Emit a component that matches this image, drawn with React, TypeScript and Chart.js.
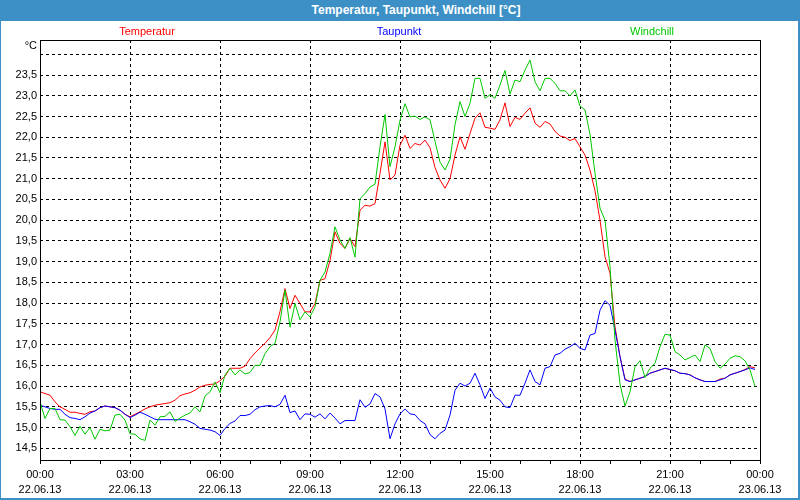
import React, { useEffect, useRef } from "react";
import { Chart, registerables } from "chart.js";

Chart.register(...registerables);

// 10-minute samples from 00:00 to 23:50 (22.06.13)
const stepMinutes = 10;

const temperatur = [
  15.86, 15.82, 15.78, 15.62, 15.5, 15.44,
  15.37, 15.37, 15.34, 15.32, 15.38, 15.4,
  15.48, 15.52, 15.5, 15.48, 15.42, 15.32,
  15.26, 15.32, 15.38, 15.45, 15.5, 15.54,
  15.56, 15.58, 15.6, 15.66, 15.77, 15.81,
  15.84, 15.9, 15.98, 16.02, 16.04, 16.05,
  16.13, 16.24, 16.43, 16.43, 16.43, 16.48,
  16.66, 16.8, 16.92, 17.03, 17.17, 17.35,
  17.8, 18.35, 17.87, 18.19, 17.99, 17.79,
  17.79, 17.99, 18.55, 18.59, 19.03, 19.72,
  19.44, 19.32, 19.56, 19.36, 20.24, 20.36,
  20.34, 20.4, 21.13, 21.89, 20.97, 21.09,
  21.81, 22.05, 21.73, 21.85, 21.81, 21.93,
  21.75, 21.27, 20.97, 20.77, 21.0, 21.57,
  22.01, 21.71, 22.09, 22.46, 22.59, 22.24,
  22.22, 22.19, 22.42, 22.83, 22.26, 22.48,
  22.43, 22.58, 22.71, 22.34, 22.24, 22.38,
  22.32, 22.14, 22.03, 22.0, 21.92, 21.97,
  21.77, 21.57, 21.21, 20.71, 20.0, 19.12,
  18.72, 17.43, 16.71, 16.17, 16.11, 16.15,
  16.19, 16.23, 16.31, 16.35, 16.39, 16.43,
  16.4, 16.37, 16.31, 16.3, 16.27, 16.2,
  16.15, 16.11, 16.11, 16.11, 16.17, 16.19,
  16.27, 16.31, 16.35, 16.4, 16.47, 16.44,
];

const taupunkt = [
  15.54, 15.5, 15.46, 15.44, 15.44, 15.32,
  15.24, 15.22, 15.19, 15.26, 15.35, 15.4,
  15.48, 15.52, 15.5, 15.48, 15.42, 15.32,
  15.24, 15.3, 15.37, 15.32, 15.26, 15.2,
  15.19, 15.19, 15.19, 15.19, 15.19, 15.19,
  15.14, 15.08, 14.98, 14.96, 14.94, 14.9,
  14.81, 14.98, 15.1, 15.16, 15.29, 15.29,
  15.32, 15.43, 15.5, 15.52, 15.53, 15.5,
  15.56, 15.78, 15.36, 15.4, 15.19, 15.33,
  15.32, 15.25, 15.33, 15.21, 15.35, 15.23,
  15.09, 15.17, 15.17, 15.17, 15.67, 15.49,
  15.57, 15.82, 15.74, 15.45, 14.73, 15.09,
  15.33, 15.45, 15.33, 15.31, 15.17, 15.09,
  14.83, 14.73, 14.86, 14.94, 15.3, 15.9,
  16.07, 16.0, 16.07, 16.31, 16.03, 15.7,
  15.95, 15.74, 15.66, 15.5, 15.48, 15.78,
  15.78, 16.07, 16.39, 16.11, 16.03, 16.43,
  16.47, 16.75, 16.79, 16.89, 16.95, 17.03,
  16.91, 16.87, 17.23, 17.27, 17.83, 18.06,
  17.95, 17.35, 16.71, 16.15, 16.11, 16.15,
  16.19, 16.23, 16.31, 16.35, 16.39, 16.43,
  16.4, 16.37, 16.31, 16.3, 16.27, 16.2,
  16.15, 16.11, 16.11, 16.11, 16.15, 16.19,
  16.27, 16.31, 16.35, 16.39, 16.44, 16.4,
];

const windchill = [
  15.62, 15.22, 15.46, 15.46, 15.19, 15.18,
  15.02, 14.81, 15.03, 14.84, 15.0, 14.72,
  14.96, 14.92, 14.94, 15.3, 15.32, 15.18,
  14.85, 14.84, 14.73, 14.69, 15.18, 15.06,
  15.26, 15.27, 15.38, 15.15, 15.23, 15.3,
  15.35, 15.5, 15.38, 15.76, 15.86, 16.1,
  15.84, 16.27, 16.43, 16.27, 16.39, 16.29,
  16.33, 16.5, 16.5, 16.78, 16.95, 17.03,
  17.55, 18.31, 17.42, 17.99, 17.6, 17.79,
  17.67, 17.91, 18.55, 18.75, 19.2, 19.84,
  19.52, 19.32, 19.58, 19.11, 20.52, 20.64,
  20.8, 20.87, 21.77, 22.55, 21.29, 21.77,
  22.41, 22.81, 22.49, 22.51, 22.43, 22.49,
  22.42, 21.9, 21.4, 21.21, 21.47, 22.3,
  22.86, 22.5, 22.82, 23.42, 23.42, 22.94,
  23.02, 22.94, 23.26, 23.61, 23.04, 23.38,
  23.34, 23.62, 23.86, 23.34, 23.12, 23.42,
  23.42, 23.3, 23.12, 23.12, 23.0, 23.14,
  22.75, 22.66, 22.07, 21.13, 20.29, 20.0,
  18.88, 17.11, 16.05, 15.52, 15.86, 16.47,
  16.61, 16.21, 16.43, 16.55, 16.95, 17.25,
  17.23, 16.83, 16.75, 16.63, 16.69, 16.75,
  16.59, 16.99, 16.91, 16.59, 16.43, 16.53,
  16.67, 16.73, 16.71, 16.61, 16.39, 15.99,
];

const seriesNames = ["Temperatur", "Taupunkt", "Windchill"];
const seriesColors = ["#ff0000", "#0000ff", "#00c800"];

const xTickHours = [0, 1, 2, 3, 4, 5, 6, 7, 8, 9, 10, 11, 12, 13, 14, 15, 16, 17, 18, 19, 20, 21, 22, 23, 24];
const xLabelHours = [0, 3, 6, 9, 12, 15, 18, 21, 24];
const xLabelTimes = ["00:00", "03:00", "06:00", "09:00", "12:00", "15:00", "18:00", "21:00", "00:00"];
const xLabelDates = ["22.06.13", "22.06.13", "22.06.13", "22.06.13", "22.06.13", "22.06.13", "22.06.13", "22.06.13", "23.06.13"];

const yTicks = [14.5, 15, 15.5, 16, 16.5, 17, 17.5, 18, 18.5, 19, 19.5, 20, 20.5, 21, 21.5, 22, 22.5, 23, 23.5, 24];
const yUnlabeled = [24];
const yMin = 14.218;
const yMax = 24.345;
const unitLabel = "°C";
const titleText = "Temperatur, Taupunkt, Windchill [°C]";

const FONT = '"Liberation Sans", Arial, sans-serif';
const BLUE = "#3d90c5";

const toPoints = (vals: number[]) => vals.map((v, i) => ({ x: (i * stepMinutes) / 60, y: v }));

const overlayPlugin = {
  id: "overlay",
  afterDraw(chart: any) {
    const { ctx, chartArea: a } = chart;
    ctx.save();
    ctx.strokeStyle = "#000";
    ctx.lineWidth = 1;
    ctx.setLineDash([]);
    ctx.strokeRect(a.left + 0.5, a.top + 0.5, a.right - a.left, a.bottom - a.top);
    ctx.font = "11px " + FONT;
    ctx.textBaseline = "middle";
    ctx.textAlign = "right";
    ctx.fillStyle = "#000";
    ctx.fillText(unitLabel, a.left - 3, 46);
    const centers = [147, 399, 652];
    ctx.textAlign = "center";
    chart.data.datasets.forEach((ds: any, i: number) => {
      ctx.fillStyle = ds.borderColor;
      ctx.fillText(ds.label, centers[i], 32);
    });
    ctx.restore();
  },
};

export default function App() {
  const ref = useRef<HTMLCanvasElement | null>(null);
  useEffect(() => {
    if (!ref.current) return;
    const chart = new Chart(ref.current, {
      type: "line",
      data: {
        datasets: [
          { label: seriesNames[0], data: toPoints(temperatur), borderColor: seriesColors[0], order: 2 },
          { label: seriesNames[1], data: toPoints(taupunkt), borderColor: seriesColors[1], order: 1 },
          { label: seriesNames[2], data: toPoints(windchill), borderColor: seriesColors[2], order: 0 },
        ] as any,
      },
      options: {
        responsive: false,
        animation: false,
        devicePixelRatio: 1,
        layout: { padding: { left: 0, top: 40, right: 40, bottom: 0 } },
        elements: {
          line: { borderWidth: 1, tension: 0, fill: false },
          point: { radius: 0, hoverRadius: 0 },
        },
        plugins: { legend: { display: false }, title: { display: false }, tooltip: { enabled: false } },
        events: [],
        scales: {
          x: {
            type: "linear",
            min: 0,
            max: 24,
            afterBuildTicks: (s: any) => {
              s.ticks = xTickHours.map((v) => ({ value: v }));
            },
            afterFit: (s: any) => {
              s.height = 40;
            },
            ticks: {
              autoSkip: false,
              maxRotation: 0,
              minRotation: 0,
              padding: 3,
              color: "#000",
              font: { family: FONT, size: 11, lineHeight: 15 / 11 },
              callback: (v: any) => {
                const idx = xLabelHours.indexOf(Number(v));
                return idx >= 0 ? [xLabelTimes[idx], xLabelDates[idx]] : "";
              },
            },
            grid: {
              color: (c: any) => (c.tick && xLabelHours.indexOf(c.tick.value) >= 0 ? "#000" : "rgba(0,0,0,0)"),
              lineWidth: 1,
              drawTicks: true,
              tickLength: 4,
              tickColor: "#000",
              tickWidth: 1,
              tickBorderDash: [],
            },
            border: { display: false, dash: [3, 3] },
          },
          y: {
            type: "linear",
            min: yMin,
            max: yMax,
            afterBuildTicks: (s: any) => {
              s.ticks = yTicks.map((v) => ({ value: v }));
            },
            afterFit: (s: any) => {
              s.width = 40;
            },
            ticks: {
              padding: 3,
              color: "#000",
              font: { family: FONT, size: 11 },
              callback: (v: any) => (yUnlabeled.indexOf(Number(v)) >= 0 ? "" : Number(v).toFixed(1).replace(".", ",")),
            },
            grid: { color: "#000", lineWidth: 1, drawTicks: false },
            border: { display: false, dash: [3, 3] },
          },
        },
      } as any,
      plugins: [overlayPlugin],
    });
    return () => chart.destroy();
  }, []);

  return (
    <div style={{ position: "fixed", left: 0, top: 0, width: 800, height: 500, background: "#fff", overflow: "hidden" }}>
      <canvas ref={ref} width={800} height={500} style={{ position: "absolute", left: 0, top: 0, width: 800, height: 500 }} />
      <div
        style={{
          position: "absolute",
          left: 0,
          top: 0,
          width: 800,
          height: 21,
          boxSizing: "border-box",
          paddingLeft: 32,
          background: BLUE,
          color: "#fff",
          font: "bold 12px " + FONT,
          lineHeight: "21px",
          textAlign: "center",
        }}
      >
        {titleText}
      </div>
      <div style={{ position: "absolute", left: 0, top: 0, width: 1, height: 500, background: BLUE }} />
      <div style={{ position: "absolute", right: 0, top: 0, width: 2, height: 500, background: BLUE }} />
      <div style={{ position: "absolute", left: 0, bottom: 0, width: 800, height: 2, background: BLUE }} />
    </div>
  );
}
